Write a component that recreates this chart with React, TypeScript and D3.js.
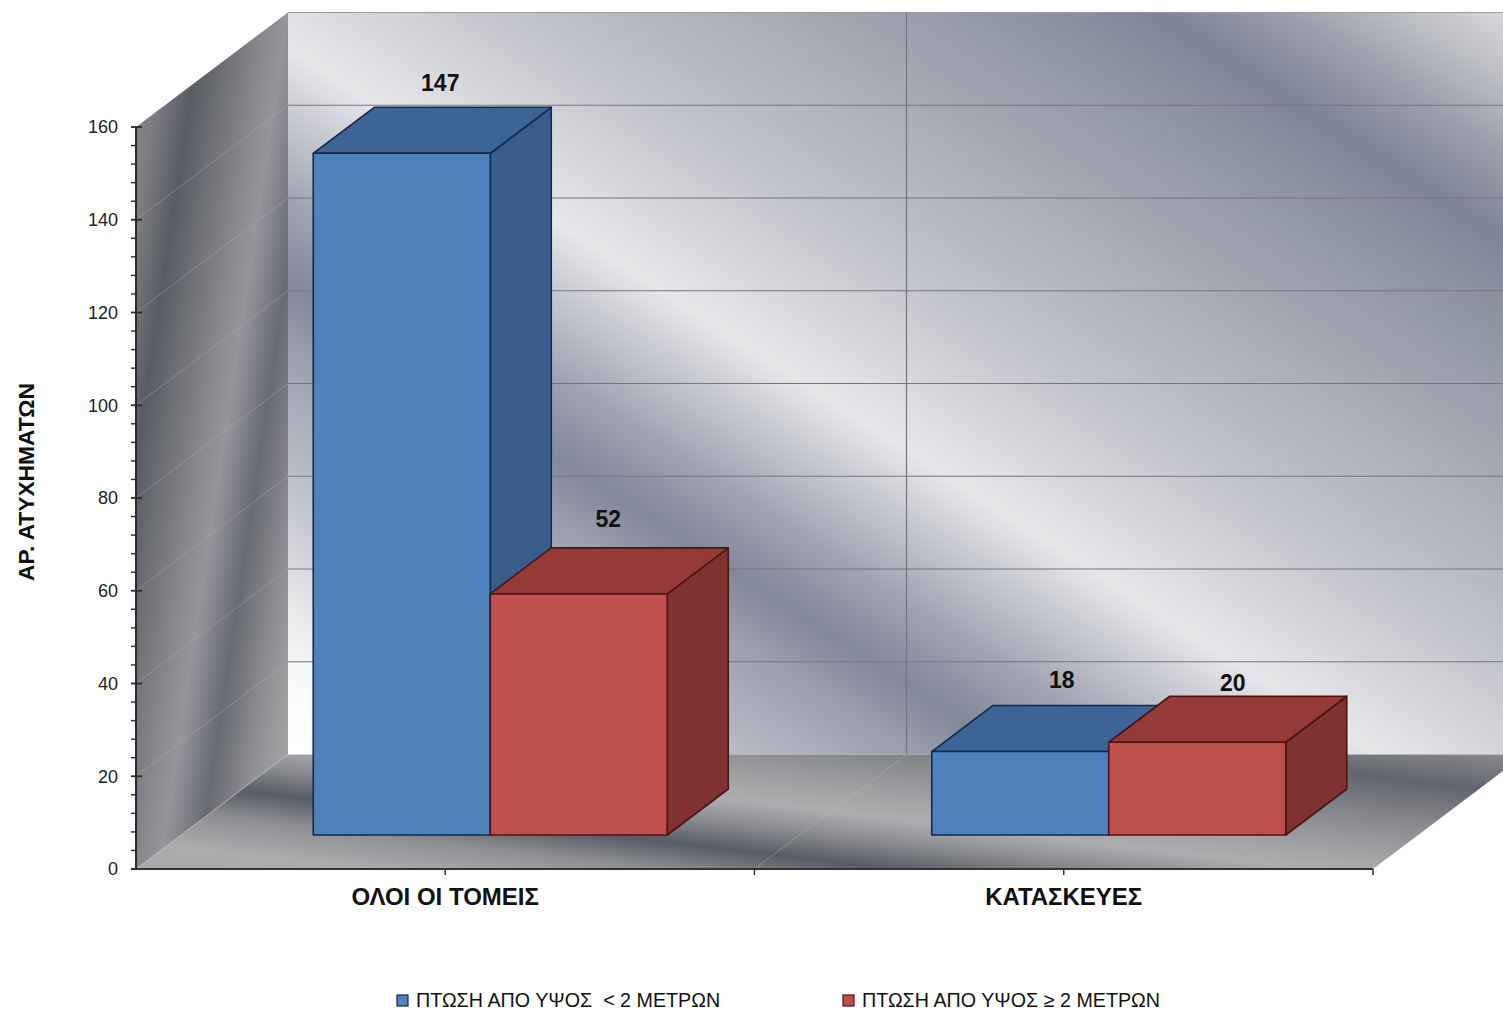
import React, { useEffect, useRef } from 'react';
import * as d3 from 'd3';

const categories = ['ΟΛΟΙ ΟΙ ΤΟΜΕΙΣ', 'ΚΑΤΑΣΚΕΥΕΣ'];
const seriesNames = ['ΠΤΩΣΗ ΑΠΟ ΥΨΟΣ  < 2 ΜΕΤΡΩΝ', 'ΠΤΩΣΗ ΑΠΟ ΥΨΟΣ ≥ 2 ΜΕΤΡΩΝ'];
const below2m = [147, 18];
const above2m = [52, 20];
const yTicks = [0, 20, 40, 60, 80, 100, 120, 140, 160];
const yMinorTicks = d3.range(0, 161, 4);
const yTitle = 'ΑΡ. ΑΤΥΧΗΜΑΤΩΝ';

const WIDTH = 1503;
const HEIGHT = 1011;

const FACES = [
  { front: '#4f81bd', top: '#3c6494', side: '#385d8a', stroke: '#12294d' },
  { front: '#c0504d', top: '#953a38', side: '#7f322f', stroke: '#4a1413' },
];

// gradient across a normal vector, stops given in "t" units along that vector
const addGradient = (
  defs: any,
  id: string,
  normal: [number, number],
  stops: [number, string][],
) => {
  const [nx, ny] = normal;
  const len2 = nx * nx + ny * ny;
  const t0 = stops[0][0];
  const t1 = stops[stops.length - 1][0];
  const g = defs
    .append('linearGradient')
    .attr('id', id)
    .attr('gradientUnits', 'userSpaceOnUse')
    .attr('x1', (nx * t0) / len2)
    .attr('y1', (ny * t0) / len2)
    .attr('x2', (nx * t1) / len2)
    .attr('y2', (ny * t1) / len2);
  stops.forEach(([t, c]) => {
    g.append('stop')
      .attr('offset', (t - t0) / (t1 - t0))
      .attr('stop-color', c);
  });
};

const App: React.FC = () => {
  const svgRef = useRef<SVGSVGElement | null>(null);

  useEffect(() => {
    if (!svgRef.current) return;
    const svg = d3.select(svgRef.current);
    svg.selectAll('*').remove();

    svg.style('font-family', '"Liberation Sans", Arial, sans-serif');

    const y = d3.scaleLinear().domain([0, 160]).range([869, 127]);
    const x0 = d3.scaleBand().domain(categories).range([136, 1373]);
    const x1 = d3.scaleBand().domain(['a', 'b']).range([-177, 177]);

    const wallDx = 152;
    const wallDy = -114.5;
    const barOffDx = 45;
    const barOffDy = -34;
    const barDepthDx = 61;
    const barDepthDy = -46;

    const defs = svg.append('defs');
    addGradient(defs, 'leftWall', [1, 0.15], [
      [150, '#85868a'],
      [172, '#7c7d81'],
      [205, '#585b63'],
      [240, '#73757a'],
      [290, '#96979b'],
      [328, '#686a72'],
      [370, '#909194'],
      [420, '#b0b0b0'],
    ]);
    addGradient(defs, 'backWall', [-0.65, 1], [
      [-980, '#dcdde0'],
      [-900, '#bdbfc5'],
      [-820, '#9a9eab'],
      [-740, '#7e8497'],
      [-660, '#8e93a2'],
      [-560, '#9ca1ad'],
      [-450, '#aeb1bb'],
      [-330, '#c0c2c9'],
      [-230, '#d4d5da'],
      [-140, '#e7e7ea'],
      [-60, '#c2c4cc'],
      [20, '#9da1b0'],
      [95, '#82879a'],
      [170, '#9ea2b0'],
      [260, '#b4b7c2'],
      [350, '#d0d1d8'],
      [420, '#eaeaec'],
      [500, '#fbfbfc'],
      [560, '#ffffff'],
    ]);
    addGradient(defs, 'floor', [-0.12, 1], [
      [570, '#8d8d90'],
      [612, '#62656e'],
      [650, '#85868a'],
      [690, '#a3a3a6'],
      [712, '#adadb0'],
      [735, '#8c8d91'],
      [762, '#585b65'],
      [790, '#8e8f93'],
      [825, '#acacae'],
      [860, '#a8a8aa'],
    ]);

    const poly = d3.line();

    // back wall
    svg
      .append('path')
      .attr('d', poly([
        [136 + wallDx, y(160) + wallDy],
        [1373 + wallDx, y(160) + wallDy],
        [1373 + wallDx, y(0) + wallDy],
        [136 + wallDx, y(0) + wallDy],
      ]) + 'Z')
      .attr('fill', 'url(#backWall)');

    // back wall grid
    yTicks.slice(1).forEach((v) => {
      svg
        .append('line')
        .attr('x1', 136 + wallDx)
        .attr('x2', 1373 + wallDx)
        .attr('y1', y(v) + wallDy)
        .attr('y2', y(v) + wallDy)
        .attr('stroke', v === 160 ? '#9a9ba0' : '#74767f')
        .attr('stroke-width', 1.2);
    });
    svg
      .append('line')
      .attr('x1', (x0(categories[1]) as number) + wallDx)
      .attr('x2', (x0(categories[1]) as number) + wallDx)
      .attr('y1', y(160) + wallDy)
      .attr('y2', y(0) + wallDy)
      .attr('stroke', '#74767f')
      .attr('stroke-width', 1.2);

    // floor
    svg
      .append('path')
      .attr('d', poly([
        [136, y(0)],
        [1373, y(0)],
        [1373 + wallDx, y(0) + wallDy],
        [136 + wallDx, y(0) + wallDy],
      ]) + 'Z')
      .attr('fill', 'url(#floor)');
    svg
      .append('line')
      .attr('x1', x0(categories[1]) as number)
      .attr('y1', y(0))
      .attr('x2', (x0(categories[1]) as number) + wallDx)
      .attr('y2', y(0) + wallDy)
      .attr('stroke', '#c0c0c4')
      .attr('stroke-opacity', 0.4);

    // left wall
    svg
      .append('path')
      .attr('d', poly([
        [136, y(160)],
        [136 + wallDx, y(160) + wallDy],
        [136 + wallDx, y(0) + wallDy],
        [136, y(0)],
      ]) + 'Z')
      .attr('fill', 'url(#leftWall)');
    yTicks.slice(1, -1).forEach((v) => {
      svg
        .append('line')
        .attr('x1', 136)
        .attr('y1', y(v))
        .attr('x2', 136 + wallDx)
        .attr('y2', y(v) + wallDy)
        .attr('stroke', '#b4b5ba')
        .attr('stroke-opacity', 0.4);
    });
    svg
      .append('line')
      .attr('x1', 136)
      .attr('y1', y(0))
      .attr('x2', 136 + wallDx)
      .attr('y2', y(0) + wallDy)
      .attr('stroke', '#c4c4c6')
      .attr('stroke-opacity', 0.6);

    // bars
    const drawBar = (cat: string, key: string, value: number, face: (typeof FACES)[number]) => {
      const cx = (x0(cat) as number) + x0.bandwidth() / 2;
      const left = cx + (x1(key) as number) + barOffDx;
      const right = left + x1.bandwidth();
      const bottom = y(0) + barOffDy;
      const top = bottom - (y(0) - y(value));
      const g = svg.append('g').attr('stroke', face.stroke).attr('stroke-width', 1.6).attr('stroke-linejoin', 'round');
      g.append('path')
        .attr('d', poly([
          [right, top],
          [right + barDepthDx, top + barDepthDy],
          [right + barDepthDx, bottom + barDepthDy],
          [right, bottom],
        ]) + 'Z')
        .attr('fill', face.side);
      g.append('path')
        .attr('d', poly([
          [left, top],
          [left + barDepthDx, top + barDepthDy],
          [right + barDepthDx, top + barDepthDy],
          [right, top],
        ]) + 'Z')
        .attr('fill', face.top);
      g.append('rect')
        .attr('x', left)
        .attr('y', top)
        .attr('width', right - left)
        .attr('height', bottom - top)
        .attr('fill', face.front);
    };

    categories.forEach((cat, i) => {
      drawBar(cat, 'a', below2m[i], FACES[0]);
      drawBar(cat, 'b', above2m[i], FACES[1]);
    });

    // value labels, nudged by hand like the original
    const valueLabels = [
      { cat: categories[0], key: 'a', value: below2m[0], dx: -2, dy: 0 },
      { cat: categories[0], key: 'b', value: above2m[0], dx: -11, dy: -5 },
      { cat: categories[1], key: 'a', value: below2m[1], dx: 1, dy: -2 },
      { cat: categories[1], key: 'b', value: above2m[1], dx: -5, dy: 11 },
    ];
    valueLabels.forEach((d) => {
      const cx = (x0(d.cat) as number) + x0.bandwidth() / 2;
      const left = cx + (x1(d.key) as number) + barOffDx;
      const top = y(0) + barOffDy - (y(0) - y(d.value));
      svg
        .append('text')
        .attr('x', left + x1.bandwidth() / 2 + barDepthDx / 2 + 10 + d.dx)
        .attr('y', top + barDepthDy - 16 + d.dy)
        .attr('text-anchor', 'middle')
        .attr('font-size', 23)
        .attr('font-weight', 'bold')
        .attr('fill', '#111')
        .text(d.value);
    });

    // y axis
    const axisY = svg.append('g').attr('stroke', '#2a2a2a');
    axisY.append('line').attr('x1', 136).attr('x2', 136).attr('y1', y(160)).attr('y2', y(0)).attr('stroke-width', 2);
    yMinorTicks.forEach((v) => {
      const major = yTicks.includes(v);
      axisY
        .append('line')
        .attr('x1', 131)
        .attr('x2', major ? 142 : 136)
        .attr('y1', y(v))
        .attr('y2', y(v))
        .attr('stroke-width', major ? 1.8 : 1.4);
    });
    yTicks.forEach((v) => {
      svg
        .append('text')
        .attr('x', 118)
        .attr('y', y(v))
        .attr('dy', '0.36em')
        .attr('text-anchor', 'end')
        .attr('font-size', 18)
        .attr('fill', '#222')
        .text(v);
    });

    // x axis
    svg
      .append('line')
      .attr('x1', 131)
      .attr('x2', 1373)
      .attr('y1', y(0))
      .attr('y2', y(0))
      .attr('stroke', '#333')
      .attr('stroke-width', 2);
    [x0(categories[1]) as number, 1373].forEach((t) => {
      svg.append('line').attr('x1', t).attr('x2', t).attr('y1', y(0)).attr('y2', y(0) + 6).attr('stroke', '#333').attr('stroke-width', 1.5);
    });
    categories.forEach((c) => {
      const cx = (x0(c) as number) + x0.bandwidth() / 2;
      svg.append('line').attr('x1', cx).attr('x2', cx).attr('y1', y(0)).attr('y2', y(0) + 6).attr('stroke', '#333').attr('stroke-width', 1.5);
      svg
        .append('text')
        .attr('x', cx)
        .attr('y', 905)
        .attr('text-anchor', 'middle')
        .attr('font-size', 24)
        .attr('font-weight', 'bold')
        .attr('fill', '#111')
        .text(c);
    });

    // y title
    svg
      .append('text')
      .attr('transform', 'translate(34,482) rotate(-90)')
      .attr('text-anchor', 'middle')
      .attr('font-size', 22.8)
      .attr('font-weight', 'bold')
      .attr('fill', '#111')
      .text(yTitle);

    // legend
    const legendX = [397, 843];
    seriesNames.forEach((name, i) => {
      svg
        .append('rect')
        .attr('x', legendX[i])
        .attr('y', 995)
        .attr('width', 11)
        .attr('height', 11)
        .attr('fill', FACES[i].front)
        .attr('stroke', FACES[i].stroke)
        .attr('stroke-width', 1.2);
      svg
        .append('text')
        .attr('x', legendX[i] + 19)
        .attr('y', 1007)
        .attr('font-size', 19.7)
        .attr('fill', '#111')
        .style('white-space', 'pre')
        .text(name);
    });
  }, []);

  return (
    <svg
      ref={svgRef}
      width={WIDTH}
      height={HEIGHT}
      viewBox={`0 0 ${WIDTH} ${HEIGHT}`}
      style={{ position: 'absolute', left: 0, top: 0, background: '#fff', display: 'block' }}
    />
  );
};

export default App;
